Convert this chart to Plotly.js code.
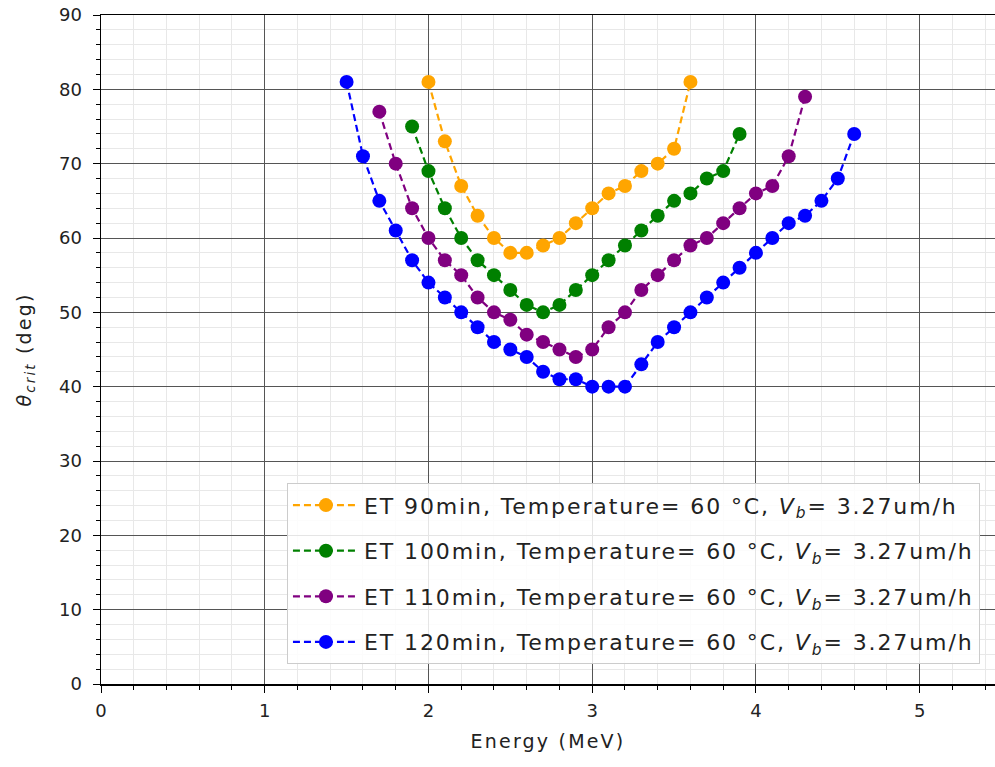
<!DOCTYPE html>
<html>
<head>
<meta charset="utf-8">
<script src="https://cdn.plot.ly/plotly-3.0.1.min.js"></script>
<style>
html,body{margin:0;padding:0;background:#fff;}
#chart{width:995px;height:767px;}
.legendtext{letter-spacing:1.9px;}
.xtitle,.ytitle{letter-spacing:2.2px;}
</style>
</head>
<body>
<div id="chart"></div>
<script>
const x90 = [2.0,2.1,2.2,2.3,2.4,2.5,2.6,2.7,2.8,2.9,3.0,3.1,3.2,3.3,3.4,3.5,3.6];
const y90 = [81,73,67,63,60,58,58,59,60,62,64,66,67,69,70,72,81];
const x100 = [1.9,2.0,2.1,2.2,2.3,2.4,2.5,2.6,2.7,2.8,2.9,3.0,3.1,3.2,3.3,3.4,3.5,3.6,3.7,3.8,3.9];
const y100 = [75,69,64,60,57,55,53,51,50,51,53,55,57,59,61,63,65,66,68,69,74];
const x110 = [1.7,1.8,1.9,2.0,2.1,2.2,2.3,2.4,2.5,2.6,2.7,2.8,2.9,3.0,3.1,3.2,3.3,3.4,3.5,3.6,3.7,3.8,3.9,4.0,4.1,4.2,4.3];
const y110 = [77,70,64,60,57,55,52,50,49,47,46,45,44,45,48,50,53,55,57,59,60,62,64,66,67,71,79];
const x120 = [1.5,1.6,1.7,1.8,1.9,2.0,2.1,2.2,2.3,2.4,2.5,2.6,2.7,2.8,2.9,3.0,3.1,3.2,3.3,3.4,3.5,3.6,3.7,3.8,3.9,4.0,4.1,4.2,4.3,4.4,4.5,4.6];
const y120 = [81,71,65,61,57,54,52,50,48,46,45,44,42,41,41,40,40,40,43,46,48,50,52,54,56,58,60,62,63,65,68,74];
const seriesNames = [
  "ET 90min, Temperature= 60 °C, <i>V</i><sub><i>b</i></sub>= 3.27um/h",
  "ET 100min, Temperature= 60 °C, <i>V</i><sub><i>b</i></sub>= 3.27um/h",
  "ET 110min, Temperature= 60 °C, <i>V</i><sub><i>b</i></sub>= 3.27um/h",
  "ET 120min, Temperature= 60 °C, <i>V</i><sub><i>b</i></sub>= 3.27um/h"
];
const colors = ["orange","green","purple","blue"];
const xs = [x90,x100,x110,x120];
const ys = [y90,y100,y110,y120];

const traces = xs.map((x,i)=>({
  x: x, y: ys[i], name: seriesNames[i], type: 'scatter', mode: 'lines+markers',
  legendgroup: 'g'+i,
  line: {color: colors[i], dash: '7px,4px', width: 2.2},
  marker: {color: colors[i], size: 14, symbol: 'circle'}
}));

const layout = {
  width: 995, height: 767,
  margin: {l: 101, r: 0, t: 15, b: 83},
  paper_bgcolor: '#fff', plot_bgcolor: '#fff',
  font: {family: 'DejaVu Sans, sans-serif', size: 17, color: '#222'},
  showlegend: true,
  legend: {
    x: 0.208, y: 0.3, xanchor: 'left', yanchor: 'top',
    bgcolor: 'rgba(255,255,255,0.85)', bordercolor: '#cccccc', borderwidth: 1,
    font: {family: 'DejaVu Sans, sans-serif', size: 22, color: '#222'},
    traceorder: 'grouped', tracegroupgap: 14, itemwidth: 66
  },
  xaxis: {
    range: [0, 5.46], dtick: 1, tick0: 0,
    showgrid: true, gridcolor: '#555', gridwidth: 1,
    zeroline: false, showline: true, linecolor: '#000', linewidth: 1.5, mirror: true,
    ticks: 'outside', ticklen: 7, tickcolor: '#000', ticklabelstandoff: 3,
    tickfont: {size: 18},
    minor: {dtick: 0.2, showgrid: true, gridcolor: '#e8e8e8', gridwidth: 1, ticks: 'outside', ticklen: 4, tickcolor: '#000'},
    title: {text: 'Energy (MeV)', font: {size: 19}, standoff: 14}
  },
  yaxis: {
    range: [0, 90], dtick: 10, tick0: 0,
    showgrid: true, gridcolor: '#555', gridwidth: 1,
    zeroline: false, showline: true, linecolor: '#000', linewidth: 1.5,
    ticks: 'outside', ticklen: 7, tickcolor: '#000', ticklabelstandoff: 7,
    tickfont: {size: 18},
    minor: {dtick: 2, showgrid: true, gridcolor: '#e8e8e8', gridwidth: 1, ticks: 'outside', ticklen: 4, tickcolor: '#000'},
    title: {text: '<i>θ</i><sub><i>crit</i></sub> (deg)', font: {size: 19}, standoff: 22}
  }
};
Plotly.newPlot('chart', traces, layout, {displayModeBar: false, staticPlot: true});
</script>
</body>
</html>
